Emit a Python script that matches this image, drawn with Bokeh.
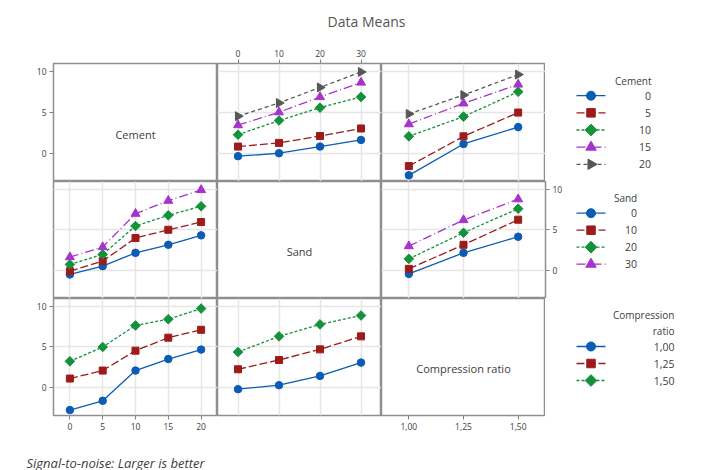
import math
from bokeh.plotting import figure
from bokeh.layouts import row, column
from bokeh.models import (Range1d, LinearAxis, FixedTicker, Grid, Label,
                          ColumnDataSource, CustomJSTickFormatter)
from bokeh.core.properties import value
from bokeh.embed import file_html
from bokeh.resources import INLINE

FONT = "Open Sans"

# ---------------- data ----------------
cement_levels = [0, 5, 10, 15, 20]
sand_levels = [0, 10, 20, 30]
cr_levels = [1.00, 1.25, 1.50]
cement_names = ["0", "5", "10", "15", "20"]
sand_names = ["0", "10", "20", "30"]
cr_names = ["1,00", "1,25", "1,50"]
y_ticks = [0, 5, 10]
y_names = ["0", "5", "10"]

# Row "Cement": one line per cement level
cement_vs_sand = [
    [-0.36, 0.00, 0.81, 1.62],
    [0.81, 1.26, 2.10, 3.02],
    [2.26, 3.99, 5.56, 6.86],
    [3.43, 5.00, 6.86, 8.63],
    [4.52, 6.13, 8.03, 9.92],
]
cement_vs_cr = [
    [-2.70, 1.13, 3.19],
    [-1.57, 2.06, 4.96],
    [2.06, 4.47, 7.50],
    [3.55, 6.09, 8.39],
    [4.80, 7.10, 9.60],
]
# Row "Sand": one line per sand level
sand_vs_cement = [
    [-0.49, 0.53, 2.17, 3.16, 4.32],
    [-0.09, 1.15, 3.99, 5.01, 5.96],
    [0.74, 1.98, 5.47, 6.79, 7.90],
    [1.64, 2.88, 6.99, 8.59, 9.91],
]
sand_vs_cr = [
    [-0.42, 2.17, 4.15],
    [0.20, 3.16, 6.25],
    [1.43, 4.64, 7.60],
    [3.00, 6.21, 8.77],
]
# Row "Compression ratio": one line per compression ratio level
cr_vs_cement = [
    [-2.78, -1.64, 2.08, 3.50, 4.66],
    [1.10, 2.08, 4.53, 6.13, 7.10],
    [3.22, 4.98, 7.63, 8.40, 9.71],
]
cr_vs_sand = [
    [-0.21, 0.28, 1.42, 3.06],
    [2.24, 3.38, 4.69, 6.29],
    [4.36, 6.29, 7.76, 8.86],
]

# ---------------- styles ----------------
COLORS = ["#0b5cb5", "#9e1b1b", "#14913a", "#a533cc", "#575757"]
MARKERS = ["circle", "square", "square", "triangle", "triangle"]
ANGLES = [0, 0, math.pi / 4, 0, -math.pi / 2]
SIZES = [7.5, 7, 6.8, 9, 9]
DASHES = ["solid", "8 3", "3 2", "9 3 1 3", "4 3"]
FRAME = "#8e8e8e"
GRID = "#e6e6e6"
TXT = "#404040"

X_RANGES = {"cement": (-2.5, 22.5), "sand": (-5, 35), "cr": (0.875, 1.625)}
X_TICKS = {"cement": cement_levels, "sand": sand_levels, "cr": cr_levels}
Y_RANGE = (-3.45, 10.95)
PW = 164


def base_fig(width, height, xr=(0, 1), yr=(0, 1), **borders):
    p = figure(width=width, height=height, x_range=Range1d(*xr), y_range=Range1d(*yr),
               x_axis_location=None, y_axis_location=None, toolbar_location=None,
               tools="", output_backend="svg", min_border=0, **borders)
    p.center = []
    p.background_fill_color = "white"
    p.border_fill_color = "white"
    return p


def panel(xkey, height, left=0, right=0, top=0, bottom=0, grid=True):
    p = base_fig(PW + left + right, height + top + bottom, X_RANGES[xkey], Y_RANGE,
                 min_border_left=left, min_border_right=right,
                 min_border_top=top, min_border_bottom=bottom)
    p.outline_line_color = FRAME
    p.outline_line_width = 1.5
    if grid:
        p.add_layout(Grid(dimension=0, ticker=FixedTicker(ticks=X_TICKS[xkey]),
                          grid_line_color=GRID, grid_line_width=1.5), "center")
        p.add_layout(Grid(dimension=1, ticker=FixedTicker(ticks=y_ticks),
                          grid_line_color=GRID, grid_line_width=1.5), "center")
    return p


def add_axis(p, ticks, names, side):
    fmt = CustomJSTickFormatter(args=dict(lv=ticks, nm=names), code="""
        for (let i = 0; i < lv.length; i++) {
            if (Math.abs(lv[i] - tick) < 1e-9) return nm[i];
        }
        return '';""")
    ax = LinearAxis(ticker=FixedTicker(ticks=ticks), formatter=fmt,
                    axis_line_color=None, major_tick_in=0, major_tick_out=4,
                    major_tick_line_color="#808080", minor_tick_line_color=None,
                    major_label_text_font=FONT, major_label_text_font_size="8.5px",
                    major_label_text_color=TXT, major_label_standoff=3)
    p.add_layout(ax, side)


def draw_groups(p, xs, groups):
    for i, ys in enumerate(groups):
        src = ColumnDataSource(dict(x=xs, y=ys))
        p.line("x", "y", source=src, line_color=COLORS[i], line_width=1.3,
               line_dash=DASHES[i])
        p.scatter("x", "y", source=src, marker=MARKERS[i], angle=ANGLES[i],
                  size=SIZES[i], fill_color=COLORS[i], line_color=COLORS[i])


def diag_label(p, xkey, text):
    x0, x1 = X_RANGES[xkey]
    p.add_layout(Label(x=(x0 + x1) / 2, y=2.3, text=text, text_align="center",
                       text_baseline="middle", text_font=FONT,
                       text_font_size="11px", text_color=TXT))


def legend_fig(width, frame_h, names, key_x0, label_right, first_y, pitch, titles,
               top=0, bottom=0):
    # pixel-like data space: x from the left edge, y up from the frame bottom
    p = base_fig(width, frame_h + top + bottom, xr=(0, width), yr=(0, frame_h),
                 min_border_top=top, min_border_bottom=bottom)
    p.outline_line_color = None
    ys = [first_y - i * pitch for i in range(len(names))]
    for i, y in enumerate(ys):
        p.line([key_x0, key_x0 + 29], [y, y], line_color=COLORS[i], line_width=1.3,
               line_dash=DASHES[i])
        p.scatter([key_x0 + 14.5], [y], marker=MARKERS[i], angle=ANGLES[i],
                  size=SIZES[i] + 1.5, fill_color=COLORS[i], line_color=COLORS[i])
    src = ColumnDataSource(dict(x=[label_right] * len(names), y=ys, t=names))
    p.text("x", "y", text="t", source=src, text_align="right", text_baseline="middle",
           text_font=value(FONT), text_font_size="10.5px", text_color=TXT)
    for (tx, ty, tt) in titles:
        p.add_layout(Label(x=tx, y=ty, text=tt, text_align="right",
                           text_baseline="middle", text_font=FONT,
                           text_font_size="10px", text_color=TXT))
    return p


# ---------------- row 1 (Cement) ----------------
p11 = panel("cement", 118, left=53, top=23, grid=False)
diag_label(p11, "cement", "Cement")
add_axis(p11, y_ticks, y_names, "left")

p12 = panel("sand", 118, top=23)
draw_groups(p12, sand_levels, cement_vs_sand)
add_axis(p12, sand_levels, sand_names, "above")

p13 = panel("cr", 118, top=23)
draw_groups(p13, cr_levels, cement_vs_cr)

leg1 = legend_fig(156, 118, cement_names, 31, 105.5, 85.8, 17.15,
                  [(106, 100.7, "Cement")], top=23)

# ---------------- row 2 (Sand) ----------------
p21 = panel("cement", 117, left=53)
draw_groups(p21, cement_levels, sand_vs_cement)

p22 = panel("sand", 117, grid=False)
diag_label(p22, "sand", "Sand")

p23 = panel("cr", 117, right=30)
draw_groups(p23, cr_levels, sand_vs_cr)
add_axis(p23, y_ticks, y_names, "right")

leg2 = legend_fig(126, 117, sand_names, 1, 61.5, 85.3, 17.0,
                  [(61.7, 100.3, "Sand")])

# ---------------- row 3 (Compression ratio) ----------------
p31 = panel("cement", 117, left=53, bottom=25)
draw_groups(p31, cement_levels, cr_vs_cement)
add_axis(p31, y_ticks, y_names, "left")
add_axis(p31, cement_levels, cement_names, "below")

p32 = panel("sand", 117, bottom=25)
draw_groups(p32, sand_levels, cr_vs_sand)

p33 = panel("cr", 117, bottom=25, grid=False)
diag_label(p33, "cr", "Compression ratio")
add_axis(p33, cr_levels, cr_names, "below")

leg3 = legend_fig(156, 117, cr_names, 31, 129, 69, 17.0,
                  [(129, 101, "Compression"), (129, 85, "ratio")], bottom=25)

# ---------------- title / footer ----------------
title_fig = base_fig(701, 40)
title_fig.outline_line_color = None
title_fig.add_layout(Label(x=366, y=19, x_units="screen", y_units="screen",
                           text="Data Means", text_align="center", text_baseline="middle",
                           text_font=FONT, text_font_size="14px", text_color="#555555"))

footer_fig = base_fig(701, 30)
footer_fig.outline_line_color = None
footer_fig.add_layout(Label(x=26, y=8, x_units="screen", y_units="screen",
                            text="Signal-to-noise: Larger is better", text_align="left",
                            text_baseline="middle", text_font=FONT,
                            text_font_size="13px", text_font_style="italic",
                            text_color="#404040"))

layout = column(
    title_fig,
    row(p11, p12, p13, leg1),
    row(p21, p22, p23, leg2),
    row(p31, p32, p33, leg3),
    footer_fig,
)

open("out.html", "w").write(file_html(layout, INLINE))
